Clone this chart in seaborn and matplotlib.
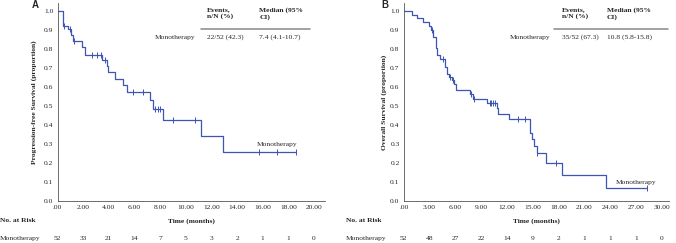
import numpy as np
import pandas as pd
import matplotlib
matplotlib.use("Agg")
import matplotlib.pyplot as plt
import matplotlib.transforms as mtransforms
from matplotlib.ticker import FixedLocator, FuncFormatter
import seaborn as sns

# ---------------- data ----------------
# Panel A: progression-free survival
pfs_times = [0.0, 0.42, 0.80, 1.05, 1.18, 1.94, 2.14, 3.44, 3.83, 3.96, 4.48, 5.13, 5.39,
             7.21, 7.44, 8.22, 11.19, 12.87, 18.6]
pfs_surv = [1.0, 0.923, 0.904, 0.875, 0.842, 0.812, 0.767, 0.742, 0.712, 0.678, 0.643,
            0.610, 0.573, 0.530, 0.487, 0.425, 0.341, 0.256, 0.256]
pfs_censor = [0.50, 0.97, 1.31, 2.72, 3.10, 3.37, 3.70, 5.91, 6.69, 7.60, 7.80, 8.00,
              9.03, 10.72, 15.7, 17.1, 18.6]

# Panel B: overall survival
os_times = [0.0, 0.93, 1.58, 2.28, 2.94, 3.14, 3.45, 3.76, 3.88, 4.22, 4.80, 5.00, 5.27,
            5.58, 5.85, 6.08, 7.70, 8.00, 9.65, 10.81, 11.00, 12.20, 14.70, 14.96, 15.19,
            15.46, 16.55, 18.37, 23.50, 28.3]
os_surv = [1.0, 0.981, 0.962, 0.943, 0.923, 0.900, 0.865, 0.808, 0.769, 0.748, 0.707,
           0.672, 0.654, 0.637, 0.619, 0.584, 0.562, 0.540, 0.518, 0.490, 0.460, 0.430,
           0.360, 0.325, 0.288, 0.252, 0.202, 0.135, 0.067, 0.067]
os_censor = [3.33, 4.60, 5.38, 5.70, 7.80, 8.17, 10.03, 10.19, 10.38, 10.60, 13.30,
             14.07, 15.50, 17.70, 28.3]

group = "Monotherapy"
pfs_xticks = [0, 2, 4, 6, 8, 10, 12, 14, 16, 18, 20]
pfs_risk = [52, 33, 21, 14, 7, 5, 3, 2, 1, 1, 0]
os_xticks = [0, 3, 6, 9, 12, 15, 18, 21, 24, 27, 30]
os_risk = [52, 48, 27, 22, 14, 9, 2, 1, 1, 1, 0]
yticks = [0.0, 0.1, 0.2, 0.3, 0.4, 0.5, 0.6, 0.7, 0.8, 0.9, 1.0]

pfs_table = ["22/52 (42.3)", "7.4 (4.1-10.7)"]
os_table = ["35/52 (67.3)", "10.8 (5.8-15.8)"]

# ---------------- style ----------------
sns.set_style("white")
plt.rcParams["font.family"] = ["Liberation Serif", "DejaVu Serif"]
FS = 5.4
LINE = "#3d56b5"

W, H = 676, 243
fig = plt.figure(figsize=(W / 100, H / 100), dpi=100)


def fx(px):
    return px / W


def fy(py):
    return 1 - py / H


def panel(left_px, right_px, xmax_tick, xticks, times, surv, censor, risk, ylabel,
          letter, letter_px, ylab_px, table_vals, table_px, rule_px, lab_xy):
    top_px, bot_px = 3, 201
    ax = fig.add_axes([fx(left_px), fy(bot_px), (right_px - left_px) / W, (bot_px - top_px) / H])
    # scales
    px_per_unit = (xmax_tick[1] - left_px) / xmax_tick[0]
    ax.set_xlim(0, (right_px - left_px) / px_per_unit)
    ax.set_ylim(0, 1 + (11.3 - top_px) / 190)

    df = pd.DataFrame({"t": times, "s": surv})
    sns.lineplot(data=df, x="t", y="s", drawstyle="steps-post", estimator=None,
                 color=LINE, lw=0.9, ax=ax, legend=False)
    cs = np.array([surv[np.searchsorted(times, c, side="right") - 1] for c in censor])
    cdf = pd.DataFrame({"t": censor, "s": cs})
    sns.scatterplot(data=cdf, x="t", y="s", marker="|", s=14, linewidth=0.7,
                    color=LINE, ax=ax, legend=False, zorder=3)

    ax.text(lab_xy[0], lab_xy[1], group, fontsize=FS, ha="left", va="center")

    for side in ["top", "right"]:
        ax.spines[side].set_visible(False)
    for side in ["left", "bottom"]:
        ax.spines[side].set_color("#555555")
        ax.spines[side].set_linewidth(0.6)
    ax.xaxis.set_major_locator(FixedLocator(xticks))
    ax.yaxis.set_major_locator(FixedLocator(yticks))
    ax.xaxis.set_major_formatter(FuncFormatter(lambda v, p: ".00" if v == 0 else f"{v:.2f}"))
    ax.yaxis.set_major_formatter(FuncFormatter(lambda v, p: f"{v:.1f}"))
    ax.tick_params(axis="both", which="major", direction="inout", length=3, width=0.6,
                   color="#555555", labelsize=FS, pad=1.5)
    ax.set_xlabel("")
    ax.set_ylabel("")
    ax.grid(False)

    # axis titles
    fig.text(fx(ylab_px), fy(102), ylabel, rotation=90, fontsize=FS, fontweight="bold",
             ha="center", va="center")
    fig.text(fx((left_px + right_px) / 2), fy(221), "Time (months)", fontsize=FS,
             fontweight="bold", ha="center", va="center")
    fig.text(fx(letter_px[0]), fy(letter_px[1]), letter, fontsize=7, fontweight="bold",
             family=["Liberation Sans", "DejaVu Sans"], ha="left", va="center")

    # number at risk
    fig.text(fx(left_px - 57.5), fy(220), "No. at Risk", fontsize=FS, fontweight="bold",
             ha="left", va="center")
    fig.text(fx(left_px - 57.5), fy(238), group, fontsize=FS, ha="left", va="center")
    tr = mtransforms.blended_transform_factory(ax.transData, fig.transFigure)
    for xt, n in zip(xticks, risk):
        ax.text(xt, fy(238), str(n), transform=tr, fontsize=FS, ha="center", va="center",
                clip_on=False)

    # summary table
    c1, c2, crow = table_px
    fig.text(fx(c1), fy(13.5), "Events,\nn/N (%)", fontsize=FS, fontweight="bold",
             ha="left", va="center", linespacing=1.25)
    fig.text(fx(c2), fy(13.5), "Median (95%\nCI)", fontsize=FS, fontweight="bold",
             ha="left", va="center", linespacing=1.25)
    fig.add_artist(plt.Line2D([fx(rule_px[0]), fx(rule_px[1])], [fy(28.7), fy(28.7)],
                              color="#888888", lw=1.1, transform=fig.transFigure))
    fig.text(fx(crow), fy(37), group, fontsize=FS, ha="left", va="center")
    fig.text(fx(c1), fy(37), table_vals[0], fontsize=FS, ha="left", va="center")
    fig.text(fx(c2), fy(37), table_vals[1], fontsize=FS, ha="left", va="center")
    return ax


panel(57.5, 325, (20, 314), pfs_xticks, pfs_times, pfs_surv, pfs_censor, pfs_risk,
      "Progression-free Survival (proportion)", "A", (32, 5), 34,
      pfs_table, (207.3, 259.3, 155), (200.5, 309.5), (15.5, 0.30))

panel(403.7, 669, (30, 661.7), os_xticks, os_times, os_surv, os_censor, os_risk,
      "Overall Survival (proportion)", "B", (381, 5), 384,
      os_table, (562, 606.7, 509.7), (554, 668), (24.6, 0.10))

fig.savefig("out.png", dpi=100)
